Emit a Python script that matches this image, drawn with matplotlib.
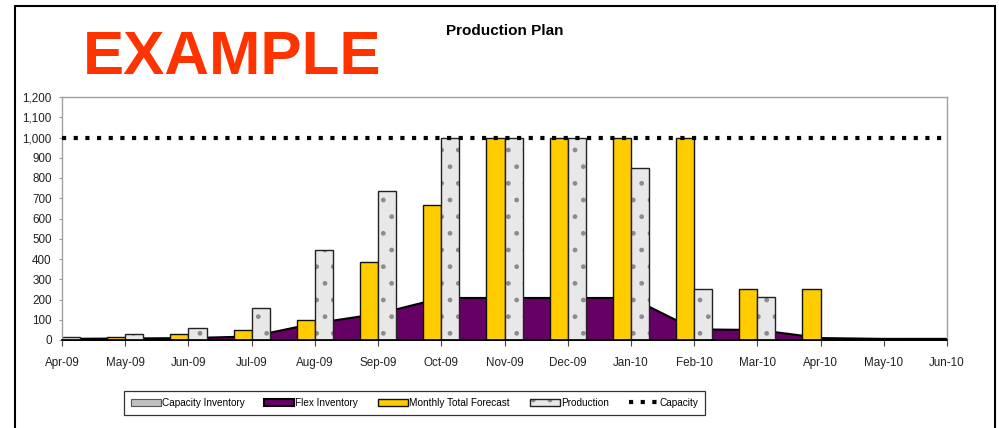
import numpy as np
import matplotlib
matplotlib.use('Agg')
import matplotlib.pyplot as plt
from matplotlib.patches import Rectangle
from matplotlib.legend_handler import HandlerTuple

months = ['Apr-09', 'May-09', 'Jun-09', 'Jul-09', 'Aug-09', 'Sep-09', 'Oct-09', 'Nov-09',
          'Dec-09', 'Jan-10', 'Feb-10', 'Mar-10', 'Apr-10', 'May-10', 'Jun-10']
capacity_inventory = [0, 0, 0, 0, 0, 0, 0, 0, 0, 0, 0, 0, 0, 0, 0]
flex_inventory = [8, 10, 12, 20, 85, 132, 210, 210, 210, 210, 55, 52, 12, 8, 8]
forecast = [0, 15, 30, 50, 100, 385, 665, 1000, 1000, 1000, 1000, 250, 250, 0, 0]
production = [15, 30, 60, 160, 445, 735, 1000, 1000, 1000, 850, 250, 210, 0, 0, 0]
capacity = [1000] * 15
yticks = [0, 100, 200, 300, 400, 500, 600, 700, 800, 900, 1000, 1100, 1200]

fam = ['Liberation Sans', 'DejaVu Sans']
plt.rcParams['font.family'] = fam

x = np.arange(len(months))
w = 0.286

fig = plt.figure(figsize=(9.99, 4.28), dpi=100)
ax = fig.add_axes([62 / 999, 1 - 340 / 428, (947 - 62) / 999, (340 - 97) / 428])

ci = ax.fill_between(x, 0, capacity_inventory, facecolor='#c0c0c0', edgecolor='#555555',
                     linewidth=0.8, label='Capacity Inventory', zorder=1)
fi = ax.fill_between(x, 0, flex_inventory, facecolor='#660066', edgecolor='black',
                     linewidth=1.5, label='Flex Inventory', zorder=1)
fb = ax.bar(x - w / 2, forecast, width=w, color='#ffcc00', edgecolor='#111111',
            linewidth=1.0, label='Monthly Total Forecast', zorder=2)
pb = ax.bar(x + w / 2, production, width=w, color='#e8e8e8', edgecolor='#8c8c8c',
            hatch='.', linewidth=0, label='Production', zorder=2)
pb_edge = ax.bar(x + w / 2, production, width=w, facecolor='none', edgecolor='#222222',
                 linewidth=1.0, zorder=2.5)
cl, = ax.plot(x, capacity, color='black', linewidth=3.0, linestyle=(0, (1.0, 1.8)),
              dash_capstyle='butt', label='Capacity', zorder=4)

ax.set_xlim(0, 14)
ax.set_ylim(0, 1200)
ax.set_xticks(x)
ax.set_xticklabels(months)
ax.set_yticks(yticks)
ax.set_yticklabels(['{:,}'.format(v) for v in yticks])
ax.tick_params(axis='x', length=4.5, width=0.8, color='#444444', pad=8,
               labelsize=8.4, labelcolor='#222222')
ax.tick_params(axis='y', length=2.5, width=0.8, color='#999999', pad=5,
               labelsize=8.4, labelcolor='#222222')
for s in ['left', 'top', 'right']:
    ax.spines[s].set_color('#a0a0a0')
    ax.spines[s].set_linewidth(1.0)
ax.spines['bottom'].set_color('black')
ax.spines['bottom'].set_linewidth(1.2)
ax.spines['bottom'].set_zorder(5)

fig.text(0.505, 1 - 31 / 428, 'Production Plan', ha='center', va='center',
         fontsize=11, fontweight='bold')
fig.text(0.2326, 1 - 58.5 / 428, 'EXAMPLE', ha='center', va='center', color='#ff3300',
         fontsize=44.5, fontweight='bold')

leg = fig.legend([ci, fi, fb, (pb, pb_edge), cl],
                 ['Capacity Inventory', 'Flex Inventory', 'Monthly Total Forecast',
                  'Production', 'Capacity'],
                 handler_map={tuple: HandlerTuple(ndivide=1)},
                 loc='center', bbox_to_anchor=(414.5 / 999, 1 - 402.5 / 428), ncol=5,
                 fontsize=7.2, frameon=True, fancybox=False, edgecolor='black',
                 handlelength=3.0, handletextpad=0.1, columnspacing=2.0,
                 borderpad=0.7)
leg.get_frame().set_linewidth(0.9)

border = Rectangle((14.5 / 999, -0.1), (994.5 - 14.5) / 999, 1.1 - 5.7 / 428,
                   transform=fig.transFigure, fill=False, edgecolor='black',
                   linewidth=1.5, clip_on=False)
fig.patches.append(border)

fig.savefig('out.png', dpi=100)
